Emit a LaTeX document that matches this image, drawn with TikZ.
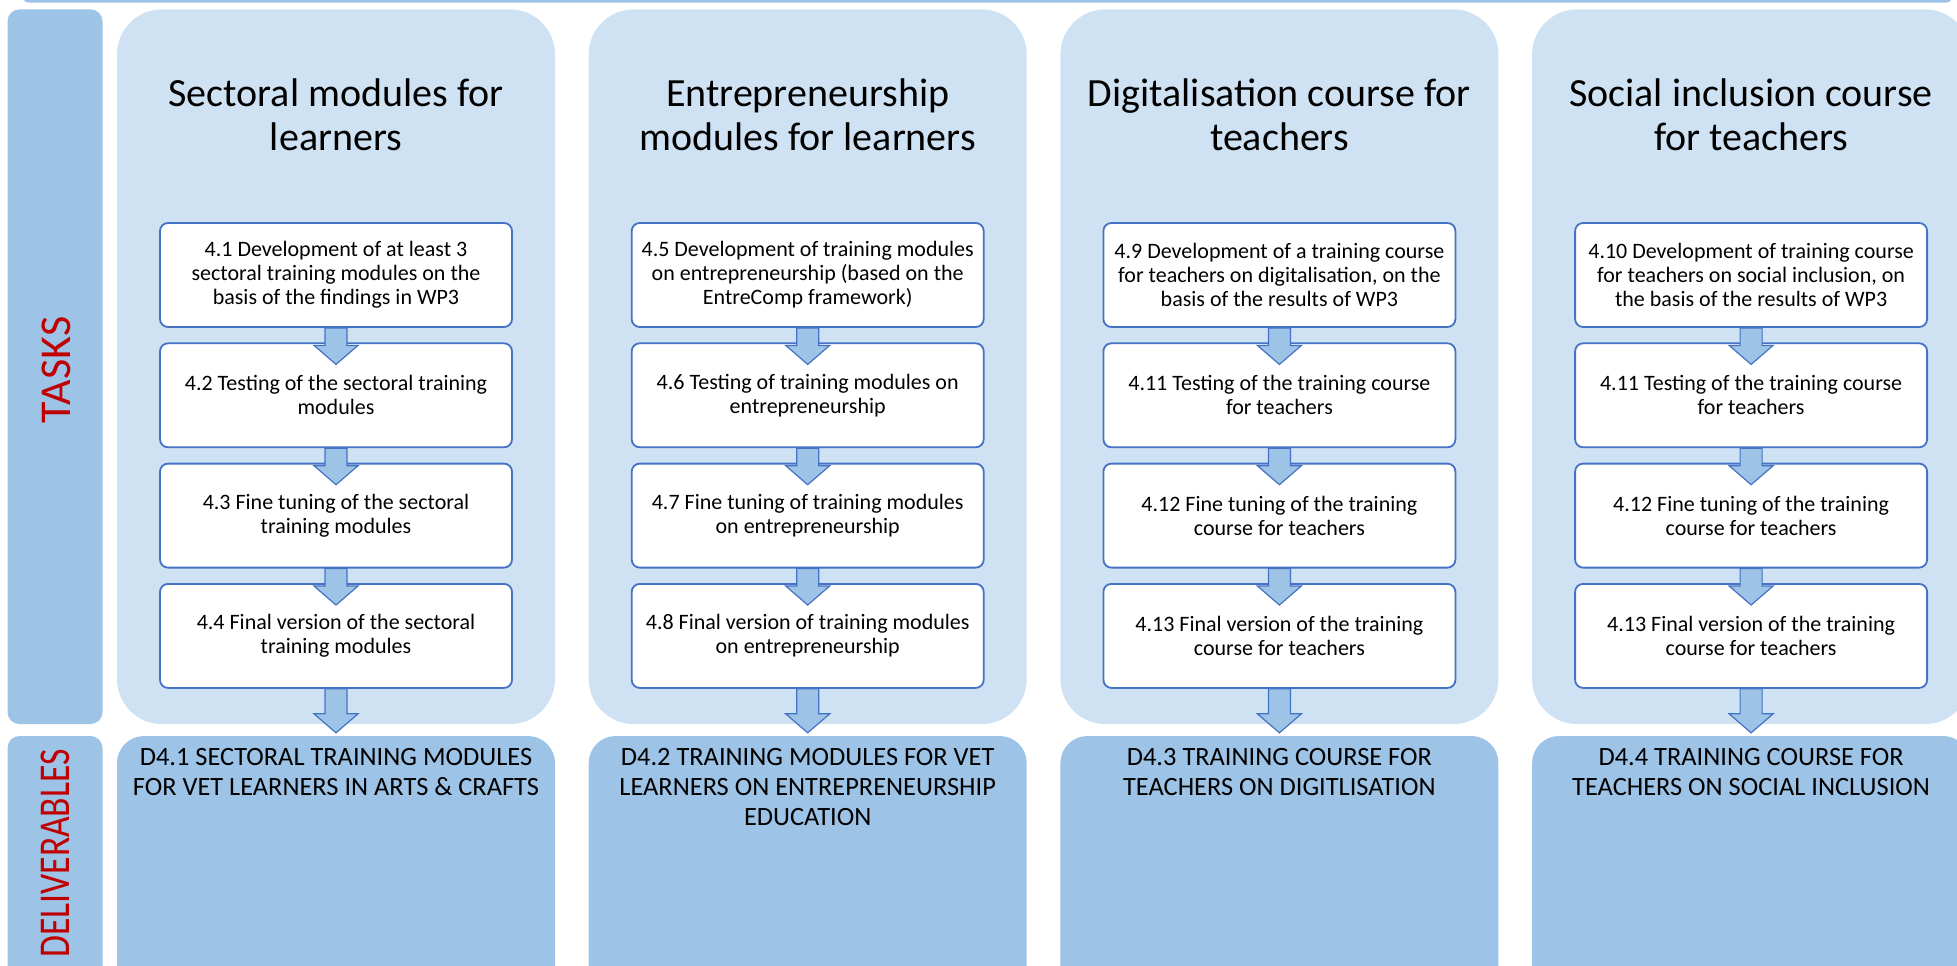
\documentclass[tikz,border=0pt]{standalone}
\usepackage{fontspec}
\setmainfont{Carlito}
\usepackage[HTML]{xcolor}
\usepackage{tikz}
\usetikzlibrary{positioning, arrows, arrows.meta, calc}

\definecolor{paleblue}{HTML}{CFE2F3}
\definecolor{midblue}{HTML}{9DC3E6}
\definecolor{edgeblue}{HTML}{4472C4}
\definecolor{labelred}{HTML}{C00000}

\begin{document}
\begin{tikzpicture}[
    x=1pt, y=-1pt, % one unit = one pixel, y pointing down
    panel/.style={fill=paleblue, rounded corners=45pt, minimum width=438pt, minimum height=714.7pt, inner sep=0pt},
    deliv/.style={fill=midblue, rounded corners=27pt, minimum width=438pt, minimum height=260pt, inner sep=0pt},
    side/.style={fill=midblue, rounded corners=12pt, minimum width=95pt, inner sep=0pt},
    heading/.style={align=center, font=\fontsize{40}{44}\selectfont, inner sep=0pt, anchor=base}, % base = last line
    task/.style={draw=edgeblue, line width=1.8pt, fill=white, rounded corners=8pt, minimum width=352pt, minimum height=104pt, align=center, font=\fontsize{22}{24}\selectfont, inner sep=0pt},
    outcome/.style={align=center, font=\fontsize{26.4}{30}\selectfont, inner sep=0pt, anchor=base},
    sidelabel/.style={rotate=90, text=labelred, font=\fontsize{44}{44}\selectfont, inner sep=0pt},
    flow/.style={fill=midblue, draw=edgeblue, line width=1.2pt, line join=miter,
        to path={let \p1=(\tikztostart), \p2=(\tikztotarget) in
            (\x1-11pt,\y1) -- (\x1+11pt,\y1) -- (\x1+11pt,\y2+19pt) -- (\x1+22pt,\y2+19pt)
            -- (\x1,\y2) -- (\x1-22pt,\y2+19pt) -- (\x1-11pt,\y2+19pt) -- cycle}}
]
    \useasboundingbox (0,0) rectangle (1957,966);
    \clip (0,0) rectangle (1957,966);

    % 1. Background strips and panels
    \fill[midblue, rounded corners=6pt] (23,-20) rectangle (1952,2.7);
    \node[side, minimum height=714.7pt] (tasksbar) at (55,366.7) {};
    \node[side, minimum height=250pt] (delivbar) at (55,861) {};
    \node[sidelabel] (tasks) at (56,370) {TASKS};
    \node[sidelabel] (deliverables) at (55.5,853.5) {\scalebox{0.81}[1]{DELIVERABLES}};

    \node[panel] (PA) at (336,366.7) {};
    \node[panel] (PB) at (807.7,366.7) {};
    \node[panel] (PC) at (1279.4,366.7) {};
    \node[panel] (PD) at (1751.1,366.7) {};

    \node[deliv] (DA) at (336,866) {};
    \node[deliv] (DB) at (807.7,866) {};
    \node[deliv] (DC) at (1279.4,866) {};
    \node[deliv] (DD) at (1751.1,866) {};

    % 2. Headings (placed by the baseline of their last line)
    \node[heading] (TA) at (336,150) {Sectoral modules for\\learners};
    \node[heading] (TB) at (807.7,150) {Entrepreneurship\\modules for learners};
    \node[heading] (TC) at (1279.4,150) {Digitalisation course for\\teachers};
    \node[heading] (TD) at (1751.1,150) {Social inclusion course\\for teachers};

    % 3. Task boxes
    \node[task] (A1) at (336,275) {4.1 Development of at least 3\\sectoral training modules on the\\basis of the findings in WP3};
    \node[task] (A2) at (336,395.3) {4.2 Testing of the sectoral training\\modules};
    \node[task] (A3) at (336,515.6) {4.3 Fine tuning of the sectoral\\training modules};
    \node[task] (A4) at (336,635.9) {4.4 Final version of the sectoral\\training modules};

    \node[task] (B1) at (807.7,275) {4.5 Development of training modules\\on entrepreneurship (based on the\\EntreComp framework)};
    \node[task] (B2) at (807.7,395.3) {4.6 Testing of training modules on\\entrepreneurship};
    \node[task] (B3) at (807.7,515.6) {4.7 Fine tuning of training modules\\on entrepreneurship};
    \node[task] (B4) at (807.7,635.9) {4.8 Final version of training modules\\on entrepreneurship};

    \node[task] (C1) at (1279.4,275) {4.9 Development of a training course\\for teachers on digitalisation, on the\\basis of the results of WP3};
    \node[task] (C2) at (1279.4,395.3) {4.11 Testing of the training course\\for teachers};
    \node[task] (C3) at (1279.4,515.6) {4.12 Fine tuning of the training\\course for teachers};
    \node[task] (C4) at (1279.4,635.9) {4.13 Final version of the training\\course for teachers};

    \node[task] (D1) at (1751.1,275) {4.10 Development of training course\\for teachers on social inclusion, on\\the basis of the results of WP3};
    \node[task] (D2) at (1751.1,395.3) {4.11 Testing of the training course\\for teachers};
    \node[task] (D3) at (1751.1,515.6) {4.12 Fine tuning of the training\\course for teachers};
    \node[task] (D4) at (1751.1,635.9) {4.13 Final version of the training\\course for teachers};

    % 4. Deliverable texts (last baseline)
    \node[outcome] (LA) at (336,795) {D4.1 SECTORAL TRAINING MODULES\\FOR VET LEARNERS IN ARTS \& CRAFTS};
    \node[outcome] (LB) at (807.7,825) {D4.2 TRAINING MODULES FOR VET\\LEARNERS ON ENTREPRENEURSHIP\\EDUCATION};
    \node[outcome] (LC) at (1279.4,795) {D4.3 TRAINING COURSE FOR\\TEACHERS ON DIGITLISATION};
    \node[outcome] (LD) at (1751.1,795) {D4.4 TRAINING COURSE FOR\\TEACHERS ON SOCIAL INCLUSION};

    % 5. Block arrows
    \draw[flow] (A1.south) to ([yshift=-22pt]A2.north);
    \draw[flow] (A2.south) to ([yshift=-22pt]A3.north);
    \draw[flow] (A3.south) to ([yshift=-22pt]A4.north);
    \draw[flow] (A4.south) to ([yshift=3pt]DA.north);

    \draw[flow] (B1.south) to ([yshift=-22pt]B2.north);
    \draw[flow] (B2.south) to ([yshift=-22pt]B3.north);
    \draw[flow] (B3.south) to ([yshift=-22pt]B4.north);
    \draw[flow] (B4.south) to ([yshift=3pt]DB.north);

    \draw[flow] (C1.south) to ([yshift=-22pt]C2.north);
    \draw[flow] (C2.south) to ([yshift=-22pt]C3.north);
    \draw[flow] (C3.south) to ([yshift=-22pt]C4.north);
    \draw[flow] (C4.south) to ([yshift=3pt]DC.north);

    \draw[flow] (D1.south) to ([yshift=-22pt]D2.north);
    \draw[flow] (D2.south) to ([yshift=-22pt]D3.north);
    \draw[flow] (D3.south) to ([yshift=-22pt]D4.north);
    \draw[flow] (D4.south) to ([yshift=3pt]DD.north);
\end{tikzpicture}
\end{document}
